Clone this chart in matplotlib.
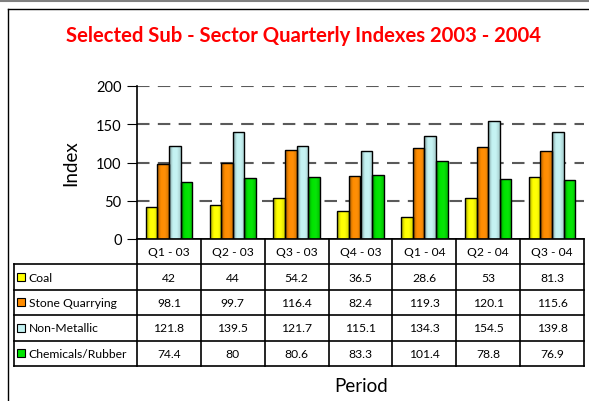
import numpy as np
import matplotlib
matplotlib.use("Agg")
import matplotlib.pyplot as plt
from matplotlib.colors import LinearSegmentedColormap, to_rgb
from matplotlib.patches import Rectangle
from matplotlib.lines import Line2D

periods = ["Q1 - 03", "Q2 - 03", "Q3 - 03", "Q4 - 03", "Q1 - 04", "Q2 - 04", "Q3 - 04"]
series_names = ["Coal", "Stone Quarrying", "Non-Metallic", "Chemicals/Rubber"]
coal = [42, 44, 54.2, 36.5, 28.6, 53, 81.3]
stone = [98.1, 99.7, 116.4, 82.4, 119.3, 120.1, 115.6]
nonmetal = [121.8, 139.5, 121.7, 115.1, 134.3, 154.5, 139.8]
chemicals = [74.4, 80, 80.6, 83.3, 101.4, 78.8, 76.9]
colors = ["#FFFF00", "#FF8C00", "#C4F2F2", "#00E400"]

plt.rcParams["font.family"] = ["Lato", "DejaVu Sans"]

W, H = 589, 402
fig = plt.figure(figsize=(W / 100, H / 100), dpi=100)

# outer frame
fig.add_artist(Line2D([0, 1], [1 - 1.5 / H] * 2, color="#808080", lw=1.5))
fig.add_artist(Line2D([8 / W, 8 / W], [0, 1 - 10 / H], color="black", lw=1))
fig.add_artist(Line2D([8 / W, 1], [1 - 10 / H] * 2, color="black", lw=1))

fig.text(303 / W, 1 - 36 / H, "Selected Sub - Sector Quarterly Indexes 2003 - 2004",
         color="#FF0000", fontsize=14.6, fontweight="bold", ha="center", va="center",
         fontstretch="condensed")

ax = fig.add_axes([137 / W, 1 - 240 / H, (584 - 137) / W, (240 - 87) / H])
ax.set_xlim(-0.5, len(periods) - 0.5)
ax.set_ylim(0, 200)
ax.set_yticks([0, 50, 100, 150, 200])
ax.tick_params(axis="y", direction="out", length=7, labelsize=10.5, pad=4)
ax.set_xticks([])
for side in ["top", "right", "bottom"]:
    ax.spines[side].set_visible(False)
ax.spines["left"].set_linewidth(1.2)
for v in [50, 100, 150, 200]:
    ax.axhline(v, color="#5a5a5a", lw=1.5, ls=(0, (6, 4)), zorder=1)
ax.axhline(0, color="black", lw=1.2, zorder=3)
ax.set_ylabel("Index", fontsize=13.5, labelpad=12)


def shade(c):
    r = np.array(to_rgb(c))
    dark = r * 0.65
    return LinearSegmentedColormap.from_list("g", [dark, r, r * 0.97 + 0.03, r * 0.85])


bw = 0.182
x = np.arange(len(periods))
all_series = [coal, stone, nonmetal, chemicals]
grad = np.linspace(0, 1, 64).reshape(1, -1)
for j, (vals, c) in enumerate(zip(all_series, colors)):
    bars = ax.bar(x + (j - 1.5) * bw, vals, width=bw, color=c, edgecolor="black",
                  lw=1.0, zorder=4)
    cmap = shade(c)
    for b in bars:
        x0, w, h = b.get_x(), b.get_width(), b.get_height()
        im = ax.imshow(grad, cmap=cmap, extent=[x0, x0 + w, 0, h], aspect="auto",
                       zorder=3.5)
        im.set_clip_path(b)
        b.set_facecolor("none")
ax.set_xlim(-0.5, len(periods) - 0.5)
ax.set_ylim(0, 200)

# data table under the chart
tax = fig.add_axes([14 / W, 1 - 367 / H, (584 - 14) / W, (367 - 240) / H])
label_w = 123 / ((584 - 137) / len(periods))
tax.set_xlim(-0.5 - label_w, len(periods) - 0.5)
tax.set_ylim(len(series_names) + 1, 0)
tax.axis("off")
lk = dict(color="black", lw=1.2, clip_on=False)
n = len(periods)
tax.plot([-0.5, n - 0.5], [0, 0], **lk)
for r in range(1, len(series_names) + 2):
    tax.plot([-0.5 - label_w, n - 0.5], [r, r], **lk)
tax.plot([-0.5 - label_w] * 2, [1, len(series_names) + 1], **lk)
for k in range(n + 1):
    tax.plot([k - 0.5] * 2, [0, len(series_names) + 1], **lk)
for i, p in enumerate(periods):
    tax.text(i, 0.5, p, ha="center", va="center", fontsize=8.7)
for r, (name, vals, c) in enumerate(zip(series_names, all_series, colors)):
    y = r + 1.5
    tax.add_patch(Rectangle((-0.5 - label_w + 0.05, y + 0.15), 0.13, -0.32,
                            facecolor=c, edgecolor="black", lw=0.8, clip_on=False))
    tax.text(-0.5 - label_w + 0.23, y, name, ha="left", va="center", fontsize=8.7)
    for i, v in enumerate(vals):
        tax.text(i, y, f"{v:g}", ha="center", va="center", fontsize=8.7)

fig.text(361 / W, 1 - 387 / H, "Period", fontsize=13.5, ha="center", va="center")

fig.savefig("out.png", dpi=100)
